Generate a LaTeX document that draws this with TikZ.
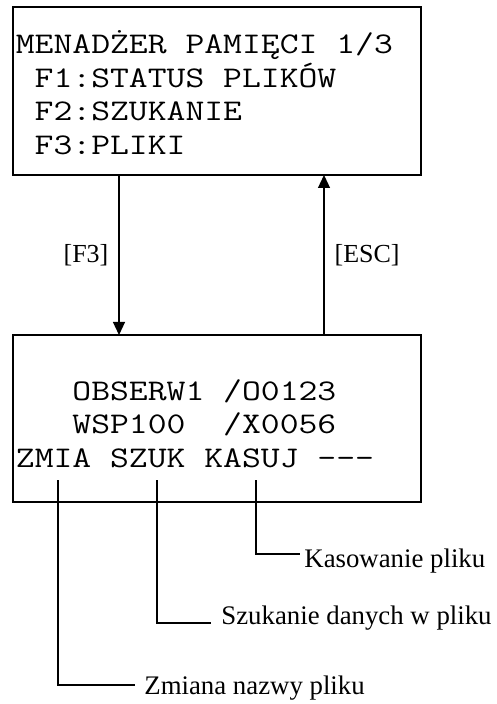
\documentclass[tikz,border=0pt]{standalone}
\usepackage{fontspec}
\setmainfont{Liberation Serif}
\newfontfamily\lcdfont{Latin Modern Mono}[FakeStretch=1.22]
\usepackage{tikz}
\usetikzlibrary{arrows.meta, positioning, calc}

\begin{document}
\begin{tikzpicture}[
    x=0.5pt, y=-0.5pt,
    screen/.style={draw=black, line width=0.8pt, inner sep=0pt, outer sep=0pt, minimum width=204pt},
    lcd/.style={inner sep=0pt, align=left, font=\lcdfont\fontsize{15pt}{16.8pt}\selectfont},
    keylbl/.style={inner sep=5pt, font=\fontsize{13pt}{15pt}\selectfont},
    note/.style={inner sep=0pt, font=\fontsize{13.4pt}{15pt}\selectfont},
    flow/.style={line width=0.6pt, -{Triangle[length=6.5pt, width=6pt]}},
    lead/.style={line width=0.6pt}
]
    \useasboundingbox (0,0) rectangle (496,704);

    \node[screen, minimum height=84pt] (menu) at (217,91) {};
    \node[lcd, anchor=south west] (menutxt) at (15.5,155) {MENADŻER PAMIĘCI 1/3\\~F1:STATUS PLIKÓW\\~F2:SZUKANIE\\~F3:PLIKI};

    \node[screen, minimum height=83.5pt] (files) at (217,418.5) {};
    \node[lcd, anchor=south west] (filestxt) at (15.5,468) {~~~OBSERW1 /O0123\\~~~WSP100~~/X0056\\ZMIA SZUK KASUJ ---};

    \draw[flow] ([xshift=-49pt]menu.south) -- node[keylbl, left] {[F3]} ([xshift=-49pt]files.north);
    \draw[flow] ([xshift=53.5pt]files.north) -- node[keylbl, right] {[ESC]} ([xshift=53.5pt]menu.south);

    \coordinate (kZmia) at (58,480);
    \coordinate (kSzuk) at (157,480);
    \coordinate (kKasuj) at (256,480);
    \coordinate (eZmia) at (135,685);
    \coordinate (eSzuk) at (211,623);
    \coordinate (eKasuj) at (300,554);

    \node[note, anchor=base west] (lKasuj) at (304,567) {Kasowanie pliku};
    \node[note, anchor=base west] (lSzuk) at (221,624) {Szukanie danych w pliku};
    \node[note, anchor=base west] (lZmia) at (144,694) {Zmiana nazwy pliku};

    \draw[lead] (kKasuj) |- (eKasuj);
    \draw[lead] (kSzuk) |- (eSzuk);
    \draw[lead] (kZmia) |- (eZmia);
\end{tikzpicture}
\end{document}
